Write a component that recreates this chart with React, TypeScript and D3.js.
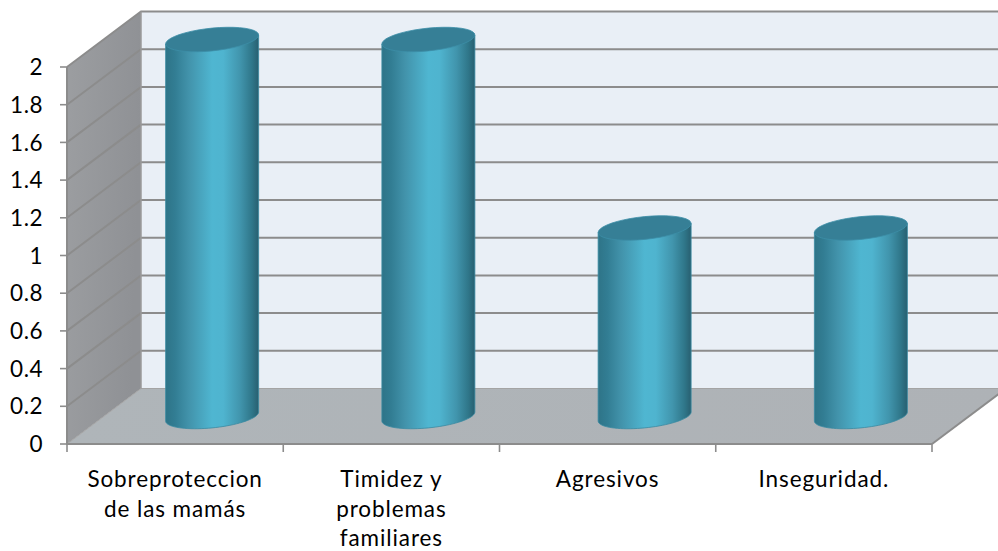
import React from "react";
import * as d3 from "d3";

const categories = [["Sobreproteccion", "de las mamás"], ["Timidez y", "problemas", "familiares"], ["Agresivos"], ["Inseguridad."]];
const values = [2, 2, 1, 1];
const yTicks = [0, 0.2, 0.4, 0.6, 0.8, 1, 1.2, 1.4, 1.6, 1.8, 2];
const gridTicks = yTicks;
const FONT = "Lato, Carlito, 'Open Sans', sans-serif";
const GRID = "#8c8c8c";

const width = 998, height = 551;
const x0 = 67, x1 = 932, y0Front = 444, y2Front = 67;
const depthX = 74, depthY = 55.5;

const x = d3.scaleBand<number>().domain(d3.range(categories.length)).range([x0, x1]);
const y = d3.scaleLinear().domain([0, 2]).range([y0Front, y2Front]);

const barOffsetX = 37, barOffsetY = 27.5;
const rx = 46.5, ry = 11.4, shear = 4.5;

function ellipsePts(cx: number, cy: number, from: number, to: number) {
  return d3.range(0, 41).map((i) => {
    const t = from + ((to - from) * i) / 40;
    return [cx + rx * Math.cos(t), cy + ry * Math.sin(t) - shear * Math.cos(t)] as [number, number];
  });
}
const line = d3.line<[number, number]>();

export default function App() {
  const fy = y(0), ty = y(2);
  return (
    <svg width={width} height={height} style={{ position: "absolute", left: 0, top: 0 }} viewBox={`0 0 ${width} ${height}`}>
      <defs>
        <linearGradient id="cyl" x1="0" x2="1" y1="0" y2="0">
          <stop offset="0" stopColor="#2e7488" />
          <stop offset="0.1" stopColor="#327d93" />
          <stop offset="0.25" stopColor="#4293ab" />
          <stop offset="0.5" stopColor="#4fb6d1" />
          <stop offset="0.62" stopColor="#4fb4cf" />
          <stop offset="0.8" stopColor="#4195ad" />
          <stop offset="0.93" stopColor="#2f7689" />
          <stop offset="1" stopColor="#285f70" />
        </linearGradient>
        <linearGradient id="wall" x1="0" x2="1" y1="0" y2="0.2">
          <stop offset="0" stopColor="#9c9ea1" />
          <stop offset="1" stopColor="#8f9195" />
        </linearGradient>
        <linearGradient id="floor" x1="0" x2="1" y1="0" y2="0">
          <stop offset="0" stopColor="#afb5b9" />
          <stop offset="1" stopColor="#aeb2b6" />
        </linearGradient>
      </defs>
      <rect x={x0 + depthX} y={ty - depthY} width={width - x0 - depthX} height={fy - ty} fill="#e9eff6" />
      <path d={`M${x0},${fy}L${x0 + depthX},${fy - depthY}V${ty - depthY}L${x0},${ty}Z`} fill="url(#wall)" />
      <path d={`M${x0},${fy}L${x0 + depthX},${fy - depthY}H${x1 + depthX}L${x1},${fy}Z`} fill="url(#floor)" />
      {gridTicks.map((t) => (
        <path key={t} fill="none" d={`M${x0},${y(t)}L${x0 + depthX},${y(t) - depthY}H${t === 0 ? x1 + depthX : width}`} stroke={t === 0 ? "#a4a4a4" : GRID} strokeWidth={t === 0 ? 1 : 2} />
      ))}
      <path d={`M${x0 + depthX},${fy - depthY}V${ty - depthY}`} stroke="#9a9a9a" fill="none" strokeWidth={1.5} />
      <path d={`M${x1},${fy}L${x1 + depthX},${fy - depthY}`} stroke={GRID} fill="none" strokeWidth={2} />
      <path d={`M${x0},${ty}V${fy}H${x1}`} stroke={GRID} fill="none" strokeWidth={2} />
      {yTicks.map((t) => (
        <g key={t}>
          <line x1={x0 - 7} x2={x0} y1={y(t)} y2={y(t)} stroke={GRID} strokeWidth={1.6} />
          <text x={43} y={y(t)} dy="0.36em" textAnchor="end" fontFamily={FONT} fontSize={22.5} letterSpacing={0.5} fill="#000">{t}</text>
        </g>
      ))}
      {d3.range(categories.length + 1).map((i) => (
        <line key={i} x1={x0 + x.step() * i} x2={x0 + x.step() * i} y1={fy} y2={fy + 8} stroke={GRID} strokeWidth={1.6} />
      ))}
      {values.map((v, i) => {
        const cx = x(i)! + x.bandwidth() / 2 + barOffsetX;
        const base = y(0) - barOffsetY;
        const top = y(v) - barOffsetY;
        const lower = ellipsePts(cx, base, 0, Math.PI);
        const body = [[cx - rx, top + shear] as [number, number], ...[...lower].reverse(), [cx + rx, top - shear] as [number, number]];
        return (
          <g key={i}>
            <path d={line(body)! + "Z"} fill="url(#cyl)" stroke="#3a8aa2" strokeWidth={0.8} />
            <path d={line(ellipsePts(cx, top, 0, 2 * Math.PI))! + "Z"} fill="#367f96" stroke="#3c8ea7" strokeWidth={0.8} />
          </g>
        );
      })}
      {categories.map((lines, i) => (
        <text key={i} textAnchor="middle" fontFamily={FONT} fontSize={22.5} letterSpacing={0.9} fill="#000">
          {lines.map((l, j) => (
            <tspan key={j} x={x(i)! + x.bandwidth() / 2} y={487 + j * 29.6}>{l}</tspan>
          ))}
        </text>
      ))}
    </svg>
  );
}
